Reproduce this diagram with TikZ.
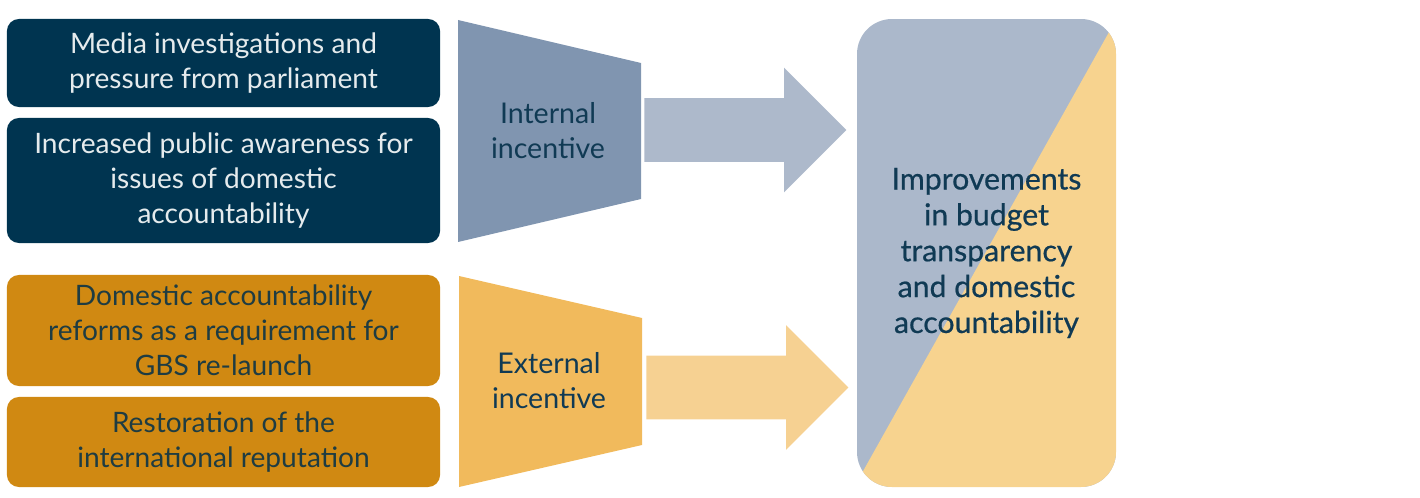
\documentclass[tikz,border=0pt]{standalone}
\usepackage{fontspec}
\setmainfont{Lato}
\newfontfamily\resultfont[FakeBold=0.6]{Lato}
\usepackage{tikz}
\usetikzlibrary{shapes.arrows, positioning}
\definecolor{navybox}{RGB}{0,52,80}
\definecolor{ochrebox}{RGB}{208,137,18}
\definecolor{ochretext}{RGB}{30,60,66}
\definecolor{intblue}{RGB}{128,149,176}
\definecolor{intarrow}{RGB}{173,185,203}
\definecolor{extgold}{RGB}{241,186,92}
\definecolor{extarrow}{RGB}{246,209,146}
\definecolor{resblue}{RGB}{171,184,203}
\definecolor{resgold}{RGB}{247,211,143}
\definecolor{inktext}{RGB}{16,58,84}

\tikzset{
  factor/.style={rounded corners=0.3cm, minimum width=10.825cm, align=center,
                 inner sep=0pt, font=\fontsize{20}{24.8}\selectfont},
  inside/.style={factor, fill=navybox, text=white!90!navybox},
  outside/.style={factor, fill=ochrebox, text=ochretext},
  incentive/.style={align=center, text=inktext, font=\fontsize{20.3}{25}\selectfont},
  push/.style={single arrow, single arrow head extend=0.7625cm, inner sep=0pt,
               inner ysep=0.7875cm, minimum height=5.05cm, anchor=tail}
}

\begin{document}
\begin{tikzpicture}[x=0.025cm, y=-0.025cm]
    \useasboundingbox (0,0) rectangle (1420,498);
    \node[inside, minimum height=2.2cm] (media) at (223.5,63) {Media investigations and\\pressure from parliament};
    \node[inside, minimum height=3.125cm] (public) at (223.5,180.5) {Increased public awareness for\\issues of domestic\\accountability};
    \node[outside, minimum height=2.775cm] (reforms) at (223.5,330.5) {Domestic accountability\\reforms as a requirement for\\GBS re-launch};
    \node[outside, minimum height=2.25cm] (reput) at (223.5,442) {Restoration of the\\international reputation};

    \fill[intblue] (458,20) -- (641,63) -- (641,199) -- (458,242) -- cycle;
    \fill[extgold] (459,276) -- (642,318) -- (642,445) -- (459,487) -- cycle;
    \node[incentive] (intinc) at (548,131) {Internal\\incentive};
    \node[incentive] (extinc) at (549,381) {External\\incentive};

    \node[push, fill=intarrow] (intpush) at (644,130) {};
    \node[push, fill=extarrow] (extpush) at (646,387.5) {};

    \begin{scope}
      \clip[rounded corners=0.875cm] (857,19) rectangle (1116,487);
      \fill[resblue] (857,19) rectangle (1116,487);
      \fill[resgold] (1127,0) -- (848,498) -- (1130,498) -- (1130,0) -- cycle;
    \end{scope}
    \node[align=center, text=inktext, font=\resultfont\fontsize{21.5}{25.5}\selectfont] (result) at (986.5,253)
      {Improvements\\in budget\\transparency\\and domestic\\accountability};
\end{tikzpicture}
\end{document}
